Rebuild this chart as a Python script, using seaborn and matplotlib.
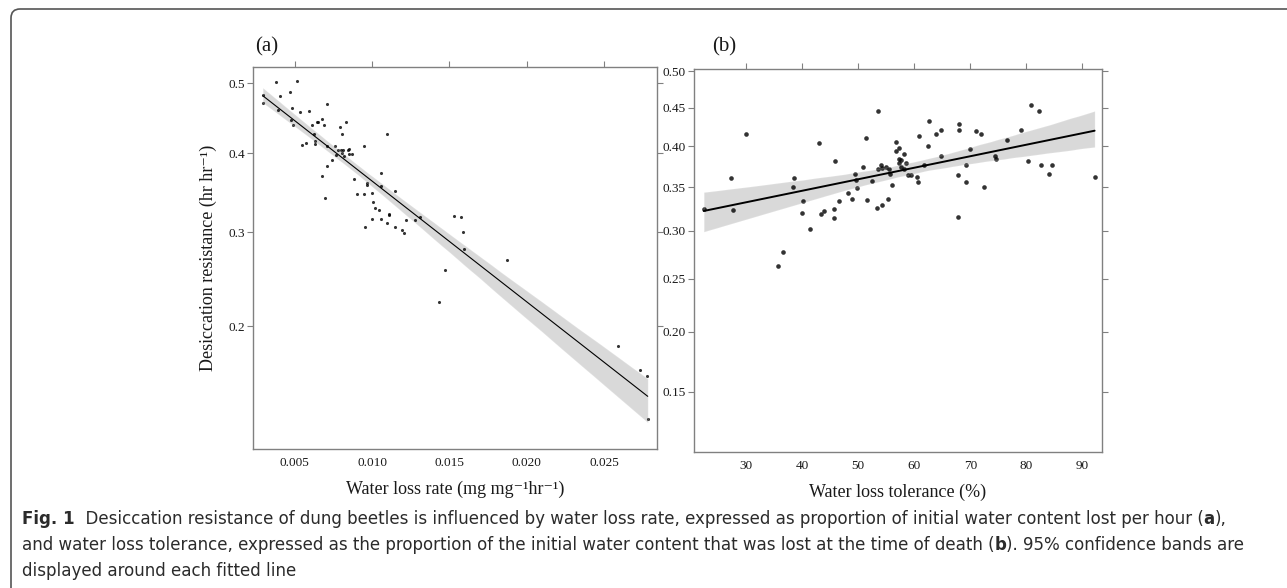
import numpy as np
import pandas as pd
import matplotlib
matplotlib.use("Agg")
import matplotlib.pyplot as plt
from matplotlib import font_manager
from matplotlib.font_manager import FontProperties
from matplotlib.path import Path
from matplotlib.patches import PathPatch
import seaborn as sns

# ---- data -----------------------------------------------------------------
# (a) water loss rate (mg mg-1 hr-1) vs desiccation resistance
rate = [0.00293, 0.00293, 0.00381, 0.00392, 0.00407, 0.00470, 0.00483, 0.00476, 0.00491, 0.00515,
        0.00536, 0.00545, 0.00573, 0.00594, 0.00614, 0.00627, 0.00633, 0.00633, 0.00642, 0.00649,
        0.00675, 0.00689, 0.00678, 0.00694, 0.00707, 0.00709, 0.00711, 0.00743, 0.00761, 0.00767,
        0.00782, 0.00793, 0.00797, 0.00808, 0.00810, 0.00806, 0.00819, 0.00834, 0.00843, 0.00853,
        0.00851, 0.00870, 0.00883, 0.00905, 0.00948, 0.00948, 0.00956, 0.00966, 0.00967, 0.00998,
        0.01002, 0.01008, 0.01019, 0.01043, 0.01060, 0.01060, 0.01058, 0.01095, 0.01099, 0.01112,
        0.01112, 0.01148, 0.01148, 0.01192, 0.01207, 0.01220, 0.01278, 0.01308, 0.01433, 0.01472,
        0.01530, 0.01573, 0.01588, 0.01595, 0.01871, 0.02588, 0.02734, 0.02775, 0.02782]
resist_a = [0.483, 0.470, 0.502, 0.460, 0.481, 0.487, 0.464, 0.446, 0.439, 0.504,
            0.457, 0.411, 0.414, 0.459, 0.439, 0.426, 0.417, 0.412, 0.443, 0.443,
            0.448, 0.439, 0.370, 0.342, 0.409, 0.382, 0.469, 0.390, 0.409, 0.397,
            0.404, 0.436, 0.404, 0.426, 0.404, 0.400, 0.396, 0.443, 0.404, 0.405,
            0.399, 0.399, 0.366, 0.346, 0.409, 0.347, 0.306, 0.361, 0.358, 0.348,
            0.316, 0.336, 0.329, 0.327, 0.373, 0.356, 0.316, 0.311, 0.426, 0.322,
            0.320, 0.306, 0.350, 0.303, 0.299, 0.315, 0.314, 0.318, 0.224, 0.257,
            0.319, 0.318, 0.300, 0.281, 0.268, 0.181, 0.160, 0.155, 0.121]

# (b) water loss tolerance (%) vs desiccation resistance
tolerance = [22.4, 27.3, 27.6, 29.9, 35.7, 36.6, 38.3, 38.6, 40.0, 40.2,
             41.3, 43.0, 43.3, 43.9, 45.7, 45.7, 45.8, 46.5, 48.1, 48.9,
             49.4, 49.6, 49.8, 50.8, 51.4, 51.6, 52.5, 53.4, 53.6, 53.6,
             54.0, 54.2, 54.3, 54.9, 55.3, 55.5, 55.6, 56.1, 56.7, 56.7,
             57.3, 57.3, 57.6, 57.3, 57.6, 58.2, 58.2, 58.5, 58.8, 59.4,
             60.5, 60.6, 60.8, 61.8, 62.4, 62.7, 63.9, 64.7, 64.7, 67.8,
             67.8, 68.0, 68.0, 69.3, 69.3, 69.9, 71.0, 71.9, 72.5, 74.4,
             74.6, 76.6, 79.1, 80.3, 80.8, 82.3, 82.6, 84.0, 84.6, 92.2]
resist_b = [0.325, 0.361, 0.323, 0.415, 0.263, 0.277, 0.350, 0.361, 0.320, 0.334,
            0.302, 0.404, 0.319, 0.322, 0.325, 0.314, 0.381, 0.334, 0.343, 0.336,
            0.366, 0.358, 0.349, 0.374, 0.410, 0.335, 0.357, 0.326, 0.445, 0.371,
            0.377, 0.329, 0.373, 0.374, 0.336, 0.372, 0.365, 0.352, 0.405, 0.394,
            0.397, 0.384, 0.383, 0.379, 0.374, 0.390, 0.371, 0.379, 0.364, 0.364,
            0.362, 0.356, 0.413, 0.377, 0.400, 0.432, 0.416, 0.388, 0.420, 0.364,
            0.316, 0.429, 0.420, 0.377, 0.356, 0.396, 0.419, 0.416, 0.350, 0.388,
            0.384, 0.408, 0.420, 0.382, 0.454, 0.445, 0.376, 0.366, 0.376, 0.362]

xticks_a = [0.005, 0.010, 0.015, 0.020, 0.025]
yticks_a = [0.2, 0.3, 0.4, 0.5]
xticks_b = [30, 40, 50, 60, 70, 80, 90]
yticks_b = [0.15, 0.20, 0.25, 0.30, 0.35, 0.40, 0.45, 0.50]

# caption lines as (text, bold) runs
caption = [
    [("Fig. 1", True),
     ("  Desiccation resistance of dung beetles is influenced by water loss rate, expressed as "
      "proportion of initial water content lost per hour (", False),
     ("a", True), ("),", False)],
    [("and water loss tolerance, expressed as the proportion of the initial water content that "
      "was lost at the time of death (", False),
     ("b", True), ("). 95% confidence bands are", False)],
    [("displayed around each fitted line", False)],
]

# ---- style -------------------------------------------------------------------
sns.set_theme(style="ticks")
plt.rcParams["font.family"] = ["Liberation Serif", "DejaVu Serif"]

GREY = "#808080"
INK = "#1a1a1a"


def caption_fonts():
    """Look for a narrow sans face (regular + bold) for the caption."""
    reg = bold = None
    for f in font_manager.fontManager.ttflist:
        fn = f.fname.lower()
        if not any(k in fn for k in ("narrow", "condensed")) or "semi" in fn:
            continue
        if any(k in fn for k in ("italic", "oblique", "light", "thin", "black", "medium", "extra")):
            continue
        if f.weight in ("bold", 700) or "bold" in fn:
            bold = bold or f.fname
        else:
            reg = reg or f.fname
    if reg:
        return FontProperties(fname=reg), FontProperties(fname=bold or reg, weight="bold")
    return FontProperties(family="DejaVu Sans"), FontProperties(family="DejaVu Sans", weight="bold")


cap_reg, cap_bold = caption_fonts()

# y is shown on a square-root scale, fit done on sqrt(y) so the line is straight
df_a = pd.DataFrame({"rate": rate, "root": np.sqrt(resist_a)})
df_b = pd.DataFrame({"tol": tolerance, "root": np.sqrt(resist_b)})

W, H = 1287, 588
fig = plt.figure(figsize=(W / 100, H / 100), dpi=100)
ax_a = fig.add_axes([253 / W, 1 - 449 / H, 404 / W, 382 / H])
ax_b = fig.add_axes([694 / W, 1 - 452 / H, 408 / W, 383 / H])

sns.regplot(data=df_a, x="rate", y="root", ax=ax_a, color="black", seed=3,
            scatter_kws={"s": 5, "linewidths": 0}, line_kws={"lw": 0.8})
sns.regplot(data=df_b, x="tol", y="root", ax=ax_b, color="black", seed=3,
            scatter_kws={"s": 11, "linewidths": 0}, line_kws={"lw": 1.4})

ax_a.set_xlim(0.0023, 0.02842)
ax_a.set_ylim(0.3155, 0.7246)
ax_a.set_xticks(xticks_a, [f"{v:.3f}" for v in xticks_a])
ax_a.set_yticks(np.sqrt(yticks_a), [f"{v:.1f}" for v in yticks_a])
ax_a.set_xlabel("Water loss rate (mg mg\u207b\u00b9hr\u207b\u00b9)", fontsize=13, color=INK, labelpad=8)
ax_a.set_ylabel("Desiccation resistance (hr hr\u207b\u00b9)", fontsize=13, color=INK, labelpad=8)

ax_b.set_xlim(20.66, 93.52)
ax_b.set_ylim(0.3271, 0.7094)
ax_b.set_xticks(xticks_b, [str(v) for v in xticks_b])
ax_b.set_yticks(np.sqrt(yticks_b), [f"{v:.2f}" for v in yticks_b])
ax_b.set_xlabel("Water loss tolerance (%)", fontsize=13, color=INK, labelpad=8)
ax_b.set_ylabel("")

for ax in (ax_a, ax_b):
    for s in ax.spines.values():
        s.set_visible(True)
        s.set_color(GREY)
        s.set_linewidth(1.0)
    ax.tick_params(direction="out", length=4, width=0.8, color=GREY, top=True, right=True,
                   bottom=False, labelsize=9.5, labelcolor=INK, pad=2)

fig.text(267 / W, 1 - 47 / H, "(a)", fontsize=15, color=INK, ha="center", va="center")
fig.text(724 / W, 1 - 47 / H, "(b)", fontsize=15, color=INK, ha="center", va="center")

# rounded frame, top and left edges only
r = 9
pts = [(11, H), (11, 9 + r), (11, 9), (11 + r, 9), (W, 9)]
codes = [Path.MOVETO, Path.LINETO, Path.CURVE3, Path.CURVE3, Path.LINETO]
frame = Path([(x / W, 1 - y / H) for x, y in pts], codes)
fig.add_artist(PathPatch(frame, transform=fig.transFigure, fill=False, ec="#555555", lw=1.2))

# ---- caption: runs laid out one after another, sized to the line width -------
renderer = fig.canvas.get_renderer()


def advance(text, fp, size):
    p = fp.copy()
    p.set_size(size)
    w1 = renderer.get_text_width_height_descent("x" + text + "x", p, ismath=False)[0]
    w0 = renderer.get_text_width_height_descent("xx", p, ismath=False)[0]
    return w1 - w0


base = 14
line1 = sum(advance(t, cap_bold if b else cap_reg, base) for t, b in caption[0])
size = base * 1213 / line1

for i, runs in enumerate(caption):
    x = 22
    for text, bold in runs:
        fp = (cap_bold if bold else cap_reg).copy()
        fp.set_size(size)
        fig.text(x / W, 1 - (524 + 26 * i) / H, text, fontproperties=fp, color="#2b2b2b",
                 ha="left", va="baseline")
        x += advance(text, cap_bold if bold else cap_reg, size)

fig.savefig("out.png", dpi=100)
